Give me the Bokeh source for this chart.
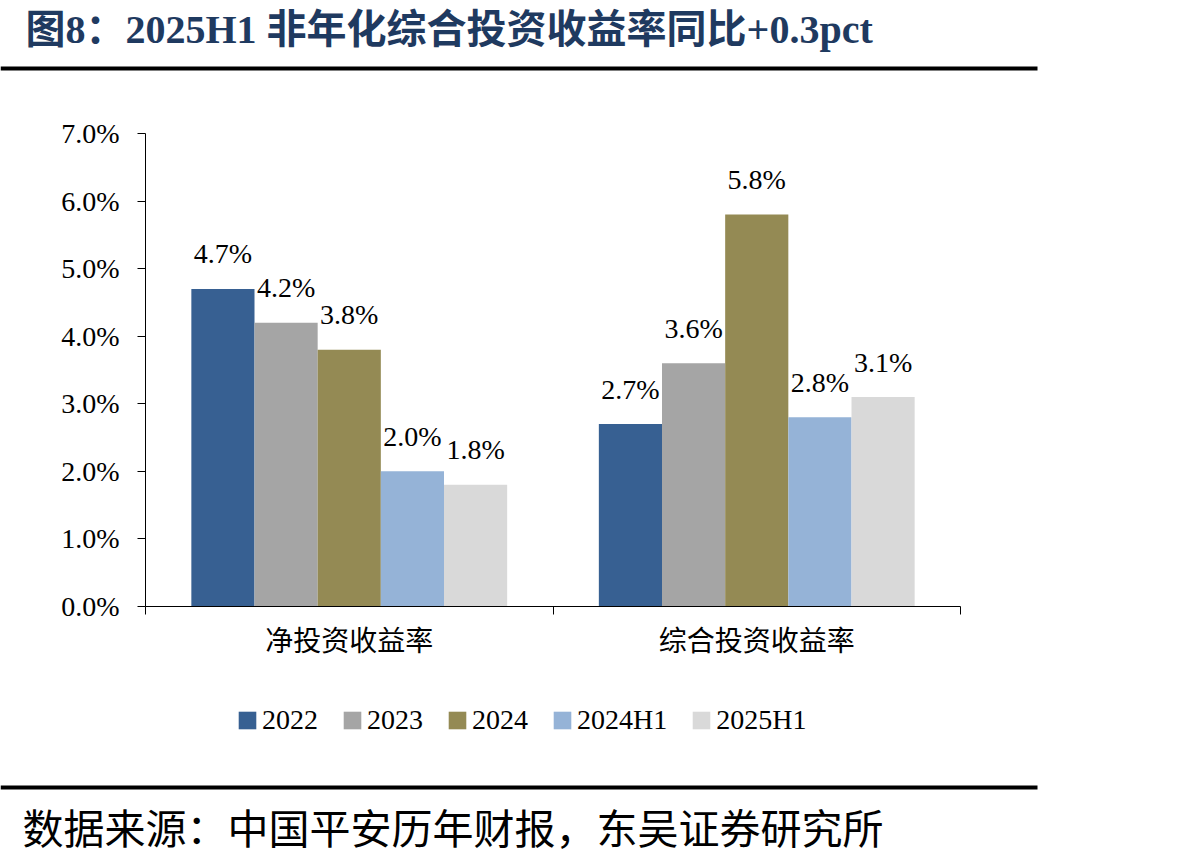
from bokeh.plotting import figure
from bokeh.layouts import column
from bokeh.models import Range1d, FixedTicker, Legend, LegendItem
from bokeh.core.properties import value
from bokeh.embed import file_html
from bokeh.resources import INLINE

# Investment yield of Ping An, by metric and period (%)
categories = ["净投资收益率", "综合投资收益率"]
series_names = ["2022", "2023", "2024", "2024H1", "2025H1"]
y2022 = [4.7, 2.7]
y2023 = [4.2, 3.6]
y2024 = [3.8, 5.8]
y2024h1 = [2.0, 2.8]
y2025h1 = [1.8, 3.1]
series_values = [y2022, y2023, y2024, y2024h1, y2025h1]
series_colors = ["#376092", "#A5A5A5", "#948A54", "#95B3D7", "#D9D9D9"]

y_ticks = [0, 1, 2, 3, 4, 5, 6, 7]
y_tick_labels = ["0.0%", "1.0%", "2.0%", "3.0%", "4.0%", "5.0%", "6.0%", "7.0%"]

title_text = "图8：2025H1 非年化综合投资收益率同比+0.3pct"
source_text = "数据来源：中国平安历年财报，东吴证券研究所"

SERIF = "'Liberation Serif', 'Times New Roman', serif"
CJK = "'Noto Sans CJK SC', sans-serif"
MIXED = "'Liberation Serif', 'Noto Sans CJK SC', serif"

W = 1192
TOP_H, MAIN_H, LEG_H, BOT_H = 72, 618, 70, 97


def strip(height):
    """A blank strip measured in pixels, y growing downwards."""
    f = figure(width=W, height=height, x_range=Range1d(0, W), y_range=Range1d(height, 0),
               output_backend="svg", toolbar_location=None, frame_align=False,
               min_border=0, min_border_left=0, min_border_right=0,
               min_border_top=0, min_border_bottom=0)
    f.axis.visible = False
    f.grid.visible = False
    f.outline_line_color = None
    f.background_fill_color = "white"
    f.border_fill_color = "white"
    return f


# header: title and heavy rule
top = strip(TOP_H)
top.text(x=[25], y=[29], text=[title_text], text_font=value(MIXED), text_font_size="40px",
         text_font_style="bold", text_color="#1f3a60", text_baseline="middle", text_align="left")
top.quad(left=[0], right=[1037], top=[66], bottom=[70], fill_color="black", line_color=None)

# main chart
p = figure(width=W, height=MAIN_H, x_range=Range1d(0, len(categories)), y_range=Range1d(0, 7),
           output_backend="svg", toolbar_location=None, frame_align=False,
           min_border_left=145, min_border_right=232, min_border_top=61, min_border_bottom=84)
p.outline_line_color = None
p.xgrid.visible = False
p.ygrid.visible = False
p.background_fill_color = "white"
p.border_fill_color = "white"

p.yaxis.ticker = FixedTicker(ticks=y_ticks)
p.yaxis.major_label_overrides = {t: lab for t, lab in zip(y_ticks, y_tick_labels)}
p.yaxis.major_tick_out = 8
p.yaxis.major_tick_in = 0
p.yaxis.minor_tick_out = 0
p.yaxis.minor_tick_in = 0
p.yaxis.major_label_standoff = 18
p.yaxis.major_label_text_font = SERIF
p.yaxis.major_label_text_font_size = "28px"
p.yaxis.major_label_text_color = "black"
p.yaxis.axis_line_color = "black"
p.yaxis.major_tick_line_color = "black"

# category labels sit mid-group; ticks mark the group boundaries
centers = [i + 0.5 for i in range(len(categories))]
bounds = [float(i) for i in range(len(categories) + 1)]
p.xaxis.ticker = FixedTicker(ticks=centers, minor_ticks=bounds)
p.xaxis.major_label_overrides = {c: lab for c, lab in zip(centers, categories)}
p.xaxis.major_tick_out = 0
p.xaxis.major_tick_in = 0
p.xaxis.minor_tick_out = 8
p.xaxis.minor_tick_in = 0
p.xaxis.minor_tick_line_color = "black"
p.xaxis.major_label_standoff = 4
p.xaxis.major_label_text_font = CJK
p.xaxis.major_label_text_font_size = "28px"
p.xaxis.major_label_text_color = "black"
p.xaxis.axis_line_color = "black"

bar_w = 0.155
n = len(series_names)
for i, (vals, col) in enumerate(zip(series_values, series_colors)):
    xs = [c + (i - (n - 1) / 2) * bar_w for c in centers]
    p.vbar(x=xs, top=vals, width=bar_w, fill_color=col, line_color=None)
    p.text(x=xs, y=vals, text=[f"{v:.1f}%" for v in vals],
           text_align="center", text_baseline="alphabetic", y_offset=-35,
           text_font=value(SERIF), text_font_size="28px", text_color="black")

# legend strip: zero-size swatch renderers carry the bar styling
leg = strip(LEG_H)
items = []
for name, col in zip(series_names, series_colors):
    r = leg.vbar(x=[0], top=[0], bottom=[0], width=0, fill_color=col, line_color=None)
    items.append(LegendItem(label=name, renderers=[r]))
legend = Legend(items=items, orientation="horizontal", location=(236, 24),
                glyph_width=22, glyph_height=22, label_standoff=4, spacing=23,
                label_text_font=SERIF, label_text_font_size="28px", label_text_color="black",
                padding=0, margin=0, border_line_color=None, background_fill_alpha=0)
leg.add_layout(legend, "center")

# footer: rule and source note
bot = strip(BOT_H)
bot.quad(left=[0], right=[1037], top=[25], bottom=[29], fill_color="black", line_color=None)
bot.text(x=[22], y=[65], text=[source_text], text_font=value(CJK), text_font_size="41px",
         text_color="black", text_baseline="middle", text_align="left")

layout = column(top, p, leg, bot, spacing=0)
open("out.html", "w").write(file_html(layout, INLINE))
